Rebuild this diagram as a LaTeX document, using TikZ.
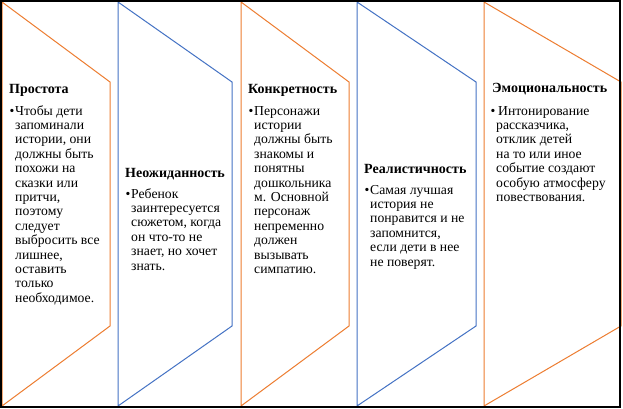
\documentclass[tikz,border=0pt]{standalone}
\usepackage{fontspec}
\setmainfont{Liberation Serif}
\definecolor{ora}{RGB}{237,125,49}
\definecolor{blu}{RGB}{68,114,196}
\newcommand\bodytext[1]{\parbox[t]{140pt}{\fontsize{13.7}{14.4}\selectfont\raggedright #1}}
\newcommand\bul{\leavevmode\llap{\textbullet\hspace{0.8pt}}}
\tikzset{
  panel/.style={line width=1pt, line join=miter},
  ttl/.style={anchor=base west, inner sep=0pt, font=\fontsize{14}{14.4}\selectfont\bfseries},
  body/.style={anchor=base west, inner sep=0pt},
}
\begin{document}
\begin{tikzpicture}[x=1pt,y=-1pt]
\useasboundingbox (0,0) rectangle (623,409);
\fill[white] (0,0) rectangle (623,409);
% panels
\draw[panel, ora] (2,2) -- (110,82) -- (110,326) -- (2,406) -- cycle;
\draw[panel, blu] (118,2) -- (232,82) -- (232,326) -- (118,406) -- cycle;
\draw[panel, ora] (241,2) -- (349,82) -- (349,326) -- (241,406) -- cycle;
\draw[panel, blu] (357,2) -- (476,82) -- (476,326) -- (357,406) -- cycle;
\draw[panel, ora] (484,2) -- (621,82) -- (621,326) -- (484,406) -- cycle;
% frame
\draw[line width=1.5pt, black] (1,1) rectangle (620,407);
% texts
\node[ttl] (t1) at (9,94) {Простота};
\node[body] (b1) at (15,115) {\bodytext{\bul Чтобы дети\\запоминали\\истории, они\\должны быть\\похожи на\\сказки или\\притчи,\\поэтому\\следует\\выбросить все\\лишнее,\\оставить\\только\\необходимое.}};
\node[ttl] (t2) at (125,177) {Неожиданность};
\node[body] (b2) at (131,198) {\bodytext{\bul Ребенок\\заинтересуется\\сюжетом, когда\\он что-то не\\знает, но хочет\\знать.}};
\node[ttl] (t3) at (248,94) {Конкретность};
\node[body] (b3) at (254,115) {\bodytext{\bul Персонажи\\истории\\должны быть\\знакомы и\\понятны\\дошкольника\\м. Основной\\персонаж\\непременно\\должен\\вызывать\\симпатию.}};
\node[ttl] (t4) at (364,173) {Реалистичность};
\node[body] (b4) at (370,194) {\bodytext{\bul Самая лучшая\\история не\\понравится и не\\запомнится,\\если дети в нее\\не поверят.}};
\node[ttl] (t5) at (492,93) {Эмоциональность};
\node[body] (b5) at (496,115) {\bodytext{\bul\hspace{2pt}Интонирование\\рассказчика,\\отклик детей\\на то или иное\\событие создают\\особую атмосферу\\повествования.}};
\end{tikzpicture}
\end{document}
